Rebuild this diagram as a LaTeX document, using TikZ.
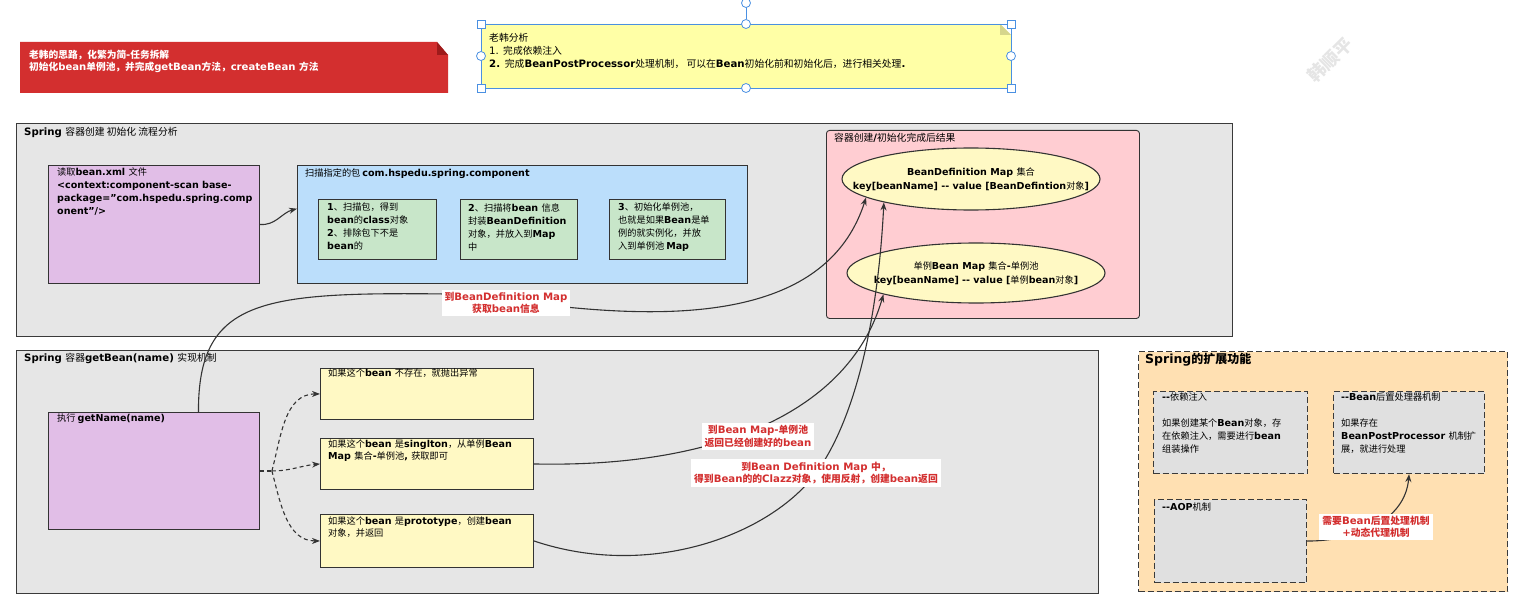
\documentclass[tikz,border=0pt]{standalone}
\usepackage{fontspec}
\setmainfont{DejaVu Sans}[Scale=1.04]
\newfontfamily\cjkf{Noto Sans CJK SC}
\usetikzlibrary{arrows.meta,shapes.geometric,calc}
\pgfdeclarelayer{fg}
\pgfsetlayers{main,fg}
% --- Latin in DejaVu Sans Bold, CJK in Noto Sans CJK SC ---
\newcount\cjkcc
\def\setclassrange#1#2#3{\cjkcc=#1\relax
  \loop\XeTeXcharclass\cjkcc=#3\relax
  \ifnum\cjkcc<#2\relax\advance\cjkcc by 1\relax\repeat}
\setclassrange{0}{"2FFF}{0}
\setclassrange{"3000}{"303F}{7}
\setclassrange{"4E00}{"9FFF}{7}
\setclassrange{"FF00}{"FFEF}{7}
\def\latseries{\bfseries}
\def\tocjk{\cjkf\mdseries}
\def\tolat{\rmfamily\latseries}
\def\cjkbold{\def\tocjk{\cjkf\bfseries}}
\XeTeXinterchartoks 0 7 = {\tocjk}
\XeTeXinterchartoks 4095 7 = {\tocjk}
\XeTeXinterchartoks 7 0 = {\tolat}
\XeTeXinterchartoks 4095 0 = {\tolat}
\XeTeXinterchartokenstate=1
% --- colours ---
\definecolor{cgrey}{HTML}{E6E6E6}
\definecolor{cbord}{HTML}{3A3A3A}
\definecolor{cedge}{HTML}{333333}
\definecolor{cline}{HTML}{333333}
\definecolor{cpurple}{HTML}{E1BEE7}
\definecolor{cblue}{HTML}{BBDEFB}
\definecolor{cgreen}{HTML}{C8E6C9}
\definecolor{cpink}{HTML}{FFCDD2}
\definecolor{cellip}{HTML}{FFF9C4}
\definecolor{cyel}{HTML}{FFF9C4}
\definecolor{cnote}{HTML}{FFFFA6}
\definecolor{cfold}{HTML}{D6D68C}
\definecolor{cred}{HTML}{D32F2F}
\definecolor{cdred}{HTML}{9E1B1B}
\definecolor{corange}{HTML}{FFE0B2}
\definecolor{cdgrey}{HTML}{E0E0E0}
\definecolor{csel}{HTML}{4A90E2}
\definecolor{clbl}{HTML}{D32F2F}
% --- fonts ---
\newcommand\fs{\fontsize{9.2}{13}\selectfont}
\newcommand\fy{\fontsize{9.2}{12}\selectfont}
\newcommand\ft{\fontsize{9.8}{13}\selectfont}
\newcommand\fe{\fontsize{9.2}{14}\selectfont}
\newcommand\fl{\fontsize{9.8}{12.5}\selectfont\cjkbold}
\newcommand\fn{\fontsize{9.8}{13}\selectfont}
\newcommand\fb{\fontsize{9.7}{12}\selectfont\cjkbold}
\newcommand\fo{\fontsize{12}{14}\selectfont\cjkbold}
\newcommand\mybox[6]{\node[box,#6,minimum width={#4pt-#2pt},minimum height={#5pt-#3pt}] (#1) at (#2,#3) {};}
\begin{document}
\begin{tikzpicture}[x=1pt,y=-1pt,
  box/.style={draw=cedge,line width=0.9pt,inner sep=0pt,anchor=north west},
  big/.style={draw=cbord,line width=1.2pt},
  dbox/.style={draw=cbord,line width=1.1pt,dash pattern=on 6pt off 3pt},
  ell/.style={ellipse,draw=cedge,line width=1.1pt,fill=cellip,inner sep=0pt},
  txt/.style={anchor=north west,inner sep=0pt,align=left,font=\fs},
  ttl/.style={txt,font=\ft},
  ctxt/.style={inner sep=0pt,align=center,font=\fe},
  conn/.style={draw=cline,line width=1.1pt,-{Stealth[length=8pt,width=6pt]}},
  dconn/.style={conn,dash pattern=on 4pt off 3pt},
  lbl/.style={fill=white,text=clbl,align=center,inner xsep=3pt,inner ysep=2.5pt,font=\fl}]
\useasboundingbox (0,0) rectangle (1518,615);
\fill[white] (0,0) rectangle (1518,615);

% watermark
\node[text=black!10,font=\fontsize{18}{18}\selectfont\cjkbold,rotate=45] (wm) at (1330,60) {韩顺平};

% red banner
\fill[cred] (20,42) -- (437,42) -- (448,55) -- (448,93) -- (20,93) -- cycle;
\fill[cdred] (437,42) -- (437,55) -- (448,55) -- cycle;
\node[txt,font=\fb,text=white] (ban) at (29,50) {老韩的思路，化繁为简-任务拆解\\初始化bean单例池，并完成getBean方法，createBean 方法};

% note with selection handles
\fill[cnote] (481,24) -- (1000,24) -- (1011,35) -- (1011,88) -- (481,88) -- cycle;
\fill[cfold] (1000,24) -- (1000,35) -- (1011,35) -- cycle;
\draw[csel,line width=0.9pt] (481,24) rectangle (1011,88);
\draw[csel,line width=0.9pt] (746,7.5) -- (746,19.5);
\foreach \p in {(481,24),(1011,24),(481,88),(1011,88)}
  \draw[csel,fill=white,line width=0.8pt] \p ++(-4,-4) rectangle ++(8,8);
\foreach \p in {(746,24),(746,88),(481,56),(1011,56),(746,3)}
  \draw[csel,fill=white,line width=0.8pt] \p circle[radius=4.5pt];
\node[txt,font=\fn] (note) at (489,33) {老韩分析\\{\def\latseries{\mdseries}1. }完成依赖注入\\2. 完成BeanPostProcessor处理机制， 可以在Bean初始化前和初始化后，进行相关处理.};

% container 1
\mybox{c1}{16}{123}{1232}{336}{big,fill=cgrey}
\node[ttl] (c1t) at (24,127) {Spring 容器创建 初始化 流程分析};
\mybox{p1}{48}{165}{259}{283}{fill=cpurple}
\node[txt] (p1t) at (57,168) {读取bean.xml 文件\\<context:component-scan base-\\package="com.hspedu.spring.comp\\onent"/>};
\mybox{bl}{297}{165}{747}{283}{fill=cblue}
\node[txt] (blt) at (305,169) {扫描指定的包 com.hspedu.spring.component};
\mybox{g1}{318}{199}{436}{259}{fill=cgreen}
\mybox{g2}{460}{199}{577}{259}{fill=cgreen}
\mybox{g3}{609}{199}{725}{259}{fill=cgreen}
\node[txt] (g1t) at (327,203) {1、扫描包，得到\\bean的class对象\\2、排除包下不是\\bean的};
\node[txt] (g2t) at (468,203) {2、扫描将bean 信息\\封装BeanDefinition\\对象，并放入到Map\\中};
\node[txt] (g3t) at (618,203) {3、初始化单例池，\\也就是如果Bean是单\\例的就实例化，并放\\入到单例池 Map};
\mybox{pk}{826}{130}{1139}{318}{fill=cpink,rounded corners=3pt}
\node[ttl] (pkt) at (834,133) {容器创建/初始化完成后结果};
\node[ell,minimum width=258pt,minimum height=62pt] (e1) at (971,179) {};
\node[ctxt] (e1t) at (971,180) {BeanDefinition Map 集合\\key[beanName] -{}- value [BeanDefintion对象]};
\node[ell,minimum width=258pt,minimum height=60pt] (e2) at (976,273) {};
\node[ctxt] (e2t) at (976,274) {单例Bean Map 集合-单例池\\key[beanName] -{}- value [单例bean对象]};

% container 2
\mybox{c2}{16}{350}{1098}{593}{big,fill=cgrey}
\node[ttl] (c2t) at (24,353) {Spring 容器getBean(name) 实现机制};
\mybox{p2}{48}{412}{259}{529}{fill=cpurple}
\node[txt] (p2t) at (57,414) {执行 getName(name)};
\mybox{y1}{320}{368}{533}{419}{fill=cyel}
\mybox{y2}{320}{438}{533}{489}{fill=cyel}
\mybox{y3}{320}{514}{533}{567}{fill=cyel}
\node[txt,font=\fy] (y1t) at (328,369) {如果这个bean 不存在，就抛出异常};
\node[txt,font=\fy] (y2t) at (328,440) {如果这个bean 是singlton，从单例Bean\\Map 集合-单例池, 获取即可};
\node[txt,font=\fy] (y3t) at (328,517) {如果这个bean 是prototype，创建bean\\对象，并返回};

% container 3
\mybox{c3}{1138}{351}{1507}{591}{dbox,fill=corange}
\node[txt,font=\fo] (c3t) at (1145,353) {Spring的扩展功能};
\mybox{d1}{1153}{391}{1307}{473}{dbox,fill=cdgrey}
\mybox{d2}{1333}{391}{1484}{473}{dbox,fill=cdgrey}
\mybox{d3}{1154}{499}{1306}{582}{dbox,fill=cdgrey}
\node[txt] (d1t) at (1162,393) {-{}-依赖注入};
\node[txt] (d1b) at (1162,419) {如果创建某个Bean对象，存\\在依赖注入，需要进行bean\\组装操作};
\node[txt] (d2t) at (1341,393) {-{}-Bean后置处理器机制};
\node[txt] (d2b) at (1341,419) {如果存在\\BeanPostProcessor 机制扩\\展，就进行处理};
\node[txt] (d3t) at (1162,503) {-{}-AOP机制};

% labels (on top)
\begin{pgfonlayer}{fg}
\node[lbl] (l1) at (506,303) {到BeanDefinition Map\\获取bean信息};
\node[lbl] (l2) at (758,436.5) {到Bean Map-单例池\\返回已经创建好的bean};
\node[lbl] (l3) at (816,473) {到Bean Definition Map 中，\\得到Bean的的Clazz对象，使用反射，创建bean返回};
\node[lbl] (l4) at (1376,527) {需要Bean后置处理机制\\+动态代理机制};
\end{pgfonlayer}

% connectors
\draw[conn] (p1.east) to[out=-5,in=195] (bl.176.5);
\path (p2.east) ++(12,0) coordinate (br);
\draw[dconn,-] (p2.east) -- (br);
\draw[dconn] (br) to[out=75,in=180] (y1.west);
\draw[dconn] (br) to[out=0,in=185] (y2.west);
\draw[dconn] (br) to[out=-75,in=180] (y3.west);
\draw[conn] ($(p2.north west)!0.71!(p2.north east)$) .. controls (198,300) and (260,292) .. (l1.172) -- (l1.-4) .. controls (700,320) and (830,310) .. (e1.190);
\draw[conn] (y2.east) .. controls (720,468) and (850,410) .. (e2.193);
\draw[conn] (y3.east) .. controls (650,580) and (770,535) .. (l3.center) .. controls (855,420) and (878,320) .. (e1.195);
\draw[conn] (d3.east) to[out=0,in=-95] (d2.south);
\end{tikzpicture}
\end{document}
